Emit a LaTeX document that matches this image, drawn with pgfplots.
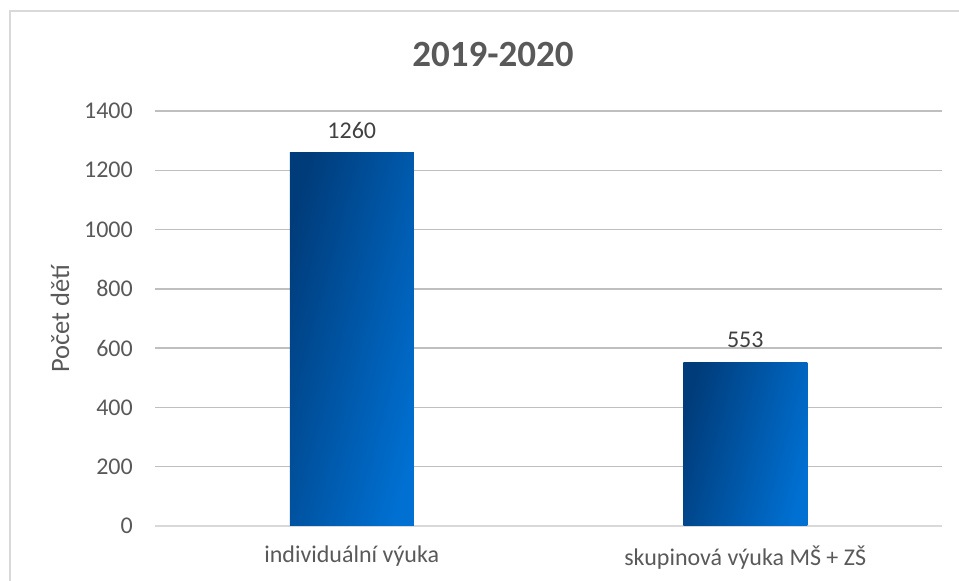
\documentclass[border=0pt]{standalone}
\usepackage{pgfplots}
\pgfplotsset{compat=1.18}
\usepackage{fontspec}
\setmainfont{Carlito}
\definecolor{txt}{HTML}{595959}
\definecolor{vtxt}{HTML}{404040}
\definecolor{grid}{HTML}{D9D9D9}
\definecolor{barA}{HTML}{003C7A}
\definecolor{barB}{HTML}{0070D2}
\begin{document}
\begin{tikzpicture}[x=1pt,y=1pt]
\useasboundingbox (0,0) rectangle (959,581);
\draw[grid, line width=1.5pt] (10,0) -- (10,570) -- (959,570);
\begin{axis}[
  at={(155pt,55pt)}, anchor=south west,
  scale only axis, width=787pt, height=415pt,
  xmin=-0.5, xmax=1.5, ymin=0, ymax=1400,
  ytick={0,200,...,1400},
  xtick={0,1}, xticklabels={individuální výuka, skupinová výuka MŠ + ZŠ},
  ymajorgrids, xmajorgrids=false, grid style={grid, line width=1.5pt},
  axis x line*=bottom, axis y line*=left,
  x axis line style={grid, line width=1.5pt, -},
  y axis line style={draw=none},
  major tick length=0pt,
  /pgf/number format/assume math mode=true,
  /pgf/number format/1000 sep={},
  yticklabel style={inner sep=0pt, anchor=east, xshift=-22pt, font=\fontsize{24}{28}\selectfont, text=txt},
  xticklabel style={inner sep=0pt, anchor=north, yshift=-20pt, font=\fontsize{24}{28}\selectfont, text=txt},
  ylabel={Počet dětí},
  ylabel style={at={(axis description cs:0,0.5)}, anchor=center, yshift=95pt, font=\fontsize{26.5}{30}\selectfont, text=txt},
  ybar, bar width=124pt, bar shift=0pt,
  nodes near coords,
  every node near coord/.append style={inner sep=0pt, anchor=south, yshift=14pt, font=\fontsize{24}{28}\selectfont, text=vtxt},
  clip=false,
]
\addplot[draw=none, left color=barA, right color=barB, shading angle=75] coordinates {(0,1260)};
\addplot[draw=none, left color=barA, right color=barB, shading angle=75] coordinates {(1,553)};
\end{axis}
\node[font=\bfseries\fontsize{37}{44}\selectfont, text=txt] at (493,526) {2019-2020};
\end{tikzpicture}
\end{document}
